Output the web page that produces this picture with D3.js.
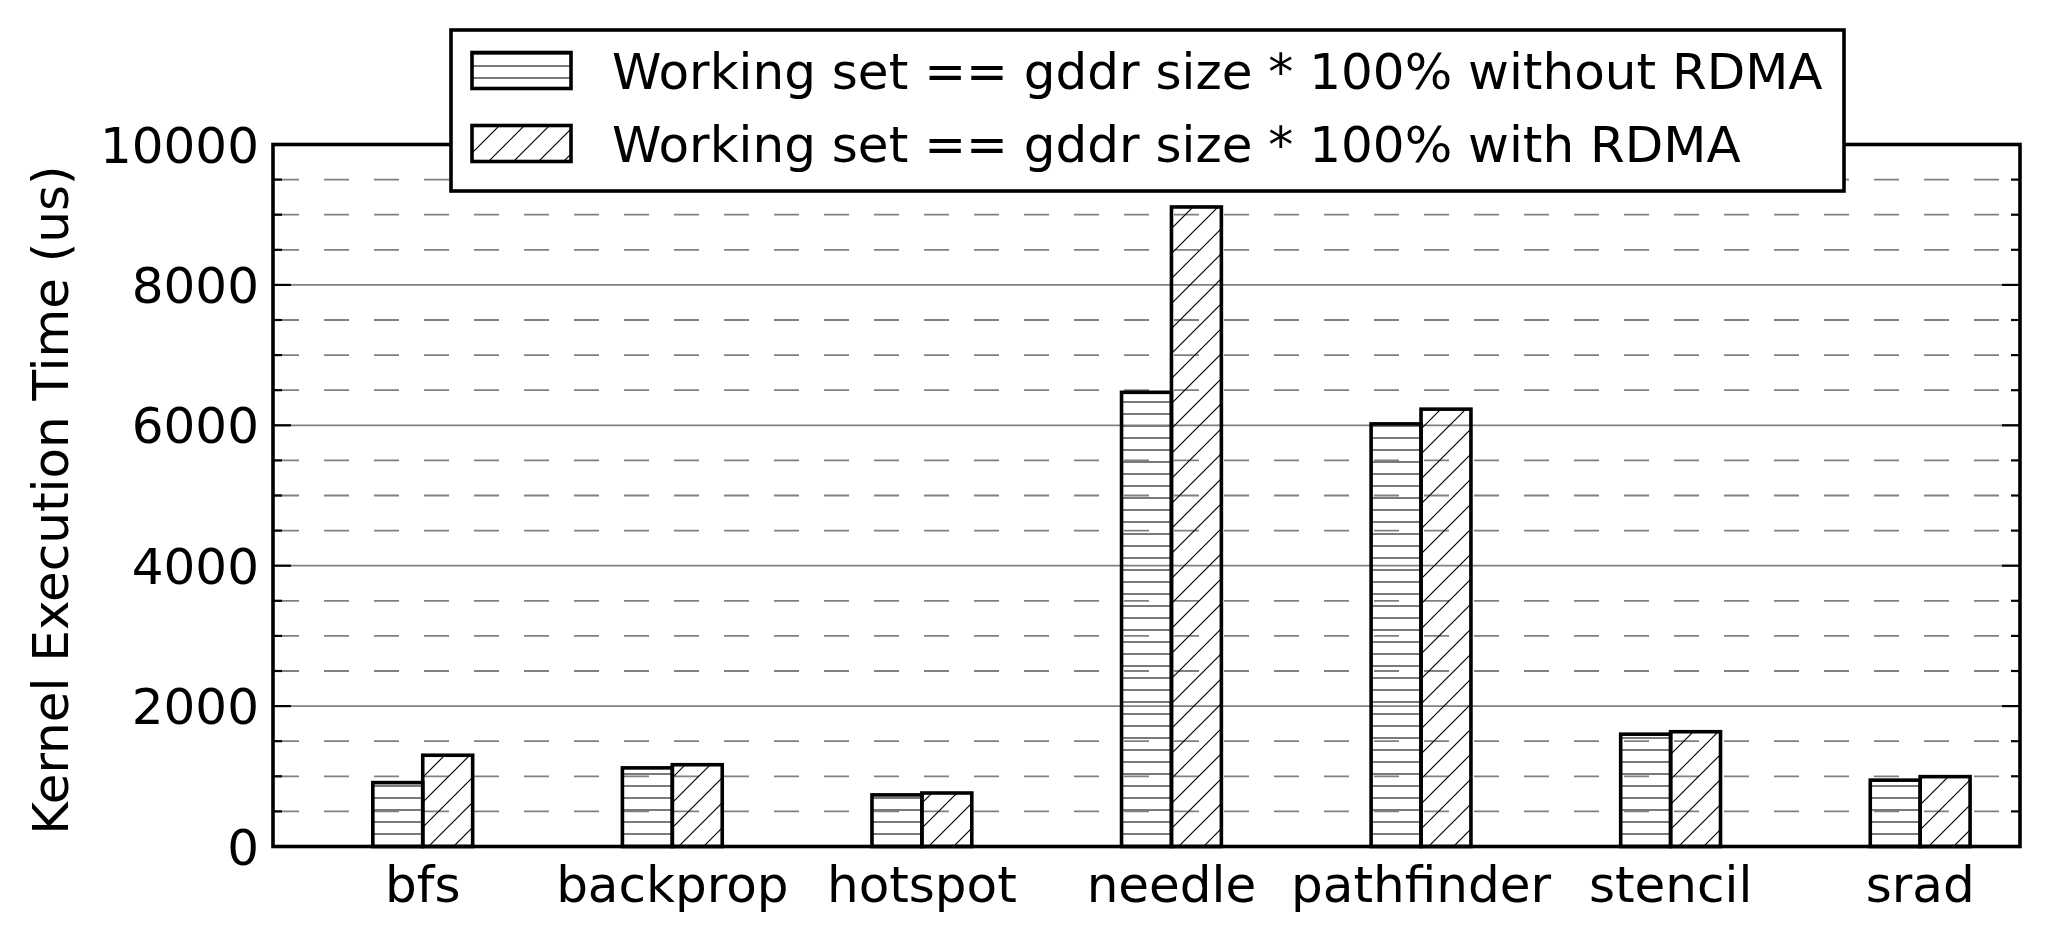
<!DOCTYPE html>
<html><head><meta charset="utf-8">
<script src="https://cdn.jsdelivr.net/npm/d3@7"></script>
<style>body{margin:0;background:#fff} text{font-family:"DejaVu Sans",sans-serif;}</style>
</head><body>
<svg id="c" width="2050" height="942"></svg>
<script>
const categories = ["bfs","backprop","hotspot","needle","pathfinder","stencil","srad"];
const withoutRDMA = [910,1120,735,6470,6020,1600,945];
const withRDMA = [1300,1165,762,9110,6230,1635,995];
const seriesNames = ["Working set == gddr size * 100% without RDMA","Working set == gddr size * 100% with RDMA"];
const yTicks = [0,2000,4000,6000,8000,10000];
const yTickLabels = ["0","2000","4000","6000","8000","10000"];
const yMinorTicks = [500,1000,1500,2500,3000,3500,4500,5000,5500,6500,7000,7500,8500,9000,9500];
const yLabel = "Kernel Execution Time (us)";

const L = 273, R = 2020, T = 144.5, B = 846.5;
const svg = d3.select("#c");
const x = d3.scaleLinear().domain([-0.6, 6.4]).range([L, R]);
const y = d3.scaleLinear().domain([0, 10000]).range([B, T]);
const barW = 0.2;
const FS = 50;

const defs = svg.append("defs");
const ph = defs.append("pattern").attr("id","hh").attr("patternUnits","userSpaceOnUse")
  .attr("width",20).attr("height",12);
ph.append("line").attr("x1",0).attr("x2",20).attr("y1",6).attr("y2",6)
  .attr("stroke","#7a7a7a").attr("stroke-width",2);
const pd = defs.append("pattern").attr("id","dd").attr("patternUnits","userSpaceOnUse")
  .attr("width",25).attr("height",25);
pd.append("path").attr("d","M-5,30 L30,-5 M-5,5 L5,-5 M20,30 L30,20")
  .attr("stroke","#000").attr("stroke-width",1.2).attr("fill","none");

// grid
const g = svg.append("g");
g.selectAll("line.minor").data(yMinorTicks).join("line")
  .attr("x1",L).attr("x2",R).attr("y1",d=>y(d)).attr("y2",d=>y(d))
  .attr("stroke","#808080").attr("stroke-width",1.8)
  .attr("stroke-dasharray","25,25").attr("stroke-dashoffset",-1);
g.selectAll("line.major").data(yTicks).join("line")
  .attr("x1",L).attr("x2",R).attr("y1",d=>y(d)).attr("y2",d=>y(d))
  .attr("stroke","#808080").attr("stroke-width",1.8);

// bars
const series = [
  {vals: withoutRDMA, off: -barW, fill: "url(#hh)"},
  {vals: withRDMA, off: 0, fill: "url(#dd)"}
];
series.forEach(s => {
  svg.append("g").selectAll("rect").data(s.vals).join("rect")
    .attr("x",(d,i)=>x(i+s.off)).attr("width",(d,i)=>x(i+s.off+barW)-x(i+s.off))
    .attr("y",d=>y(d)).attr("height",d=>y(0)-y(d))
    .attr("fill",s.fill).attr("stroke","#000").attr("stroke-width",3.6);
});

// ticks
const tk = svg.append("g").attr("stroke","#000").attr("stroke-width",2.2);
yTicks.forEach(v=>{
  tk.append("line").attr("x1",L).attr("x2",L+18).attr("y1",y(v)).attr("y2",y(v));
  tk.append("line").attr("x1",R-18).attr("x2",R).attr("y1",y(v)).attr("y2",y(v));
});
yMinorTicks.forEach(v=>{
  tk.append("line").attr("x1",L).attr("x2",L+9).attr("y1",y(v)).attr("y2",y(v));
  tk.append("line").attr("x1",R-9).attr("x2",R).attr("y1",y(v)).attr("y2",y(v));
});

// frame
svg.append("rect").attr("x",L).attr("y",T).attr("width",R-L).attr("height",B-T)
  .attr("fill","none").attr("stroke","#000").attr("stroke-width",3.6);

// tick labels
svg.append("g").selectAll("text").data(yTicks).join("text")
  .attr("x",259).attr("y",d=>y(d)+18).attr("text-anchor","end")
  .attr("font-size",FS).text((d,i)=>yTickLabels[i]);
svg.append("g").selectAll("text").data(categories).join("text")
  .attr("x",(d,i)=>x(i)).attr("y",902).attr("text-anchor","middle")
  .attr("font-size",FS).text(d=>d);

// y label
svg.append("text").attr("transform","translate(68,500) rotate(-90)")
  .attr("text-anchor","middle").attr("font-size",FS).text(yLabel);

// legend
const lg = svg.append("g");
lg.append("rect").attr("x",451).attr("y",30).attr("width",1393).attr("height",161)
  .attr("fill","#fff").attr("stroke","#000").attr("stroke-width",3.6);
const rows = [{cy:70.5, fill:"url(#hh)"},{cy:143.5, fill:"url(#dd)"}];
rows.forEach((r,i)=>{
  lg.append("rect").attr("x",472).attr("y",r.cy-18).attr("width",99).attr("height",36)
    .attr("fill",r.fill).attr("stroke","#000").attr("stroke-width",3.6);
  lg.append("text").attr("x",612).attr("y",r.cy+18).attr("font-size",FS).text(seriesNames[i]);
});
</script>
</body></html>
